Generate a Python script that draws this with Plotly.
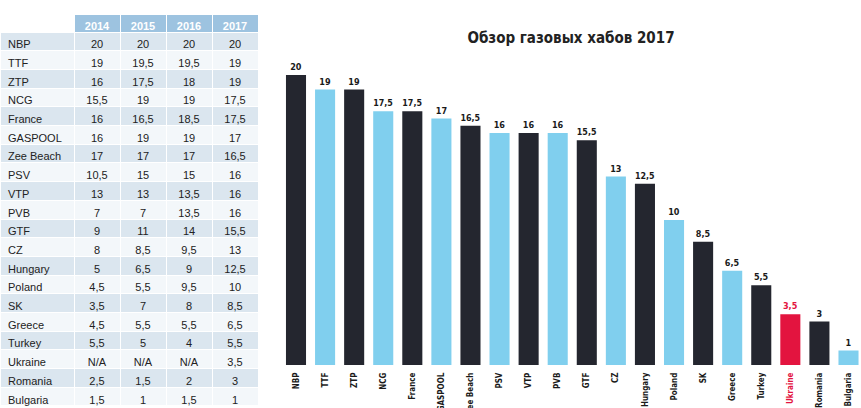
import plotly.graph_objects as go

hubs = ["NBP", "TTF", "ZTP", "NCG", "France", "GASPOOL", "Zee Beach", "PSV", "VTP", "PVB",
        "GTF", "CZ", "Hungary", "Poland", "SK", "Greece", "Turkey", "Ukraine", "Romania", "Bulgaria"]
y2014 = [20, 19, 16, 15.5, 16, 16, 17, 10.5, 13, 7, 9, 8, 5, 4.5, 3.5, 4.5, 5.5, None, 2.5, 1.5]
y2015 = [20, 19.5, 17.5, 19, 16.5, 19, 17, 15, 13, 7, 11, 8.5, 6.5, 5.5, 7, 5.5, 5, None, 1.5, 1]
y2016 = [20, 19.5, 18, 19, 18.5, 19, 17, 15, 13.5, 13.5, 14, 9.5, 9, 9.5, 8, 5.5, 4, None, 2, 1.5]
y2017 = [20, 19, 19, 17.5, 17.5, 17, 16.5, 16, 16, 16, 15.5, 13, 12.5, 10, 8.5, 6.5, 5.5, 3.5, 3, 1]
years = ["2014", "2015", "2016", "2017"]

DARK = "#24262f"
LIGHT = "#80cfee"
RED = "#e3143f"
COND = "DejaVu Sans Condensed, sans-serif"
TABLE_FONT = "Arial, Liberation Sans, sans-serif"


def fmt(v):
    if v is None:
        return "N/A"
    if float(v).is_integer():
        return str(int(v))
    return str(v).replace(".", ",")


bar_colors = []
for i, h in enumerate(hubs):
    if h == "Ukraine":
        bar_colors.append(RED)
    else:
        bar_colors.append(DARK if i % 2 == 0 else LIGHT)
text_colors = [RED if h == "Ukraine" else "#1a1a1a" for h in hubs]
tick_text = [f"<span style='color:{RED}'>{h}</span>" if h == "Ukraine" else h for h in hubs]
table_names = [h.replace(" ", "\u00a0") for h in hubs]

row_fill = ["#dbe6ef" if i % 2 == 0 else "#f3f7fa" for i in range(len(hubs))]

fig = go.Figure()

fig.add_trace(go.Table(
    domain=dict(x=[0, 258 / 861], y=[0, (408 - 14) / 408]),
    columnwidth=[74, 46, 46, 46, 46],
    header=dict(
        values=[""] + years,
        fill_color=["white", "#9dc3e0", "#9dc3e0", "#9dc3e0", "#9dc3e0"],
        line=dict(color="white", width=1),
        font=dict(family=TABLE_FONT, size=11, color="white", weight="bold"),
        align="center",
        height=18,
    ),
    cells=dict(
        values=[table_names, [fmt(v) for v in y2014], [fmt(v) for v in y2015],
                [fmt(v) for v in y2016], [fmt(v) for v in y2017]],
        fill_color=[row_fill] * 5,
        line=dict(color="white", width=1),
        font=dict(family=TABLE_FONT, size=11, color="#222222"),
        align=["left", "center", "center", "center", "center"],
        height=18.7,
    ),
))

fig.add_trace(go.Bar(
    x=hubs,
    y=y2017,
    marker=dict(color=bar_colors, line=dict(width=0)),
    width=0.69,
    text=[fmt(v) for v in y2017],
    textposition="outside",
    textfont=dict(family=COND, size=9, color=text_colors, weight="bold"),
    cliponaxis=False,
    showlegend=False,
))

px_per_slot = (848.5 - 296) / 19
left_px = 296 - px_per_slot / 2
rng_len = (861 - left_px) / px_per_slot

base_frac = (408 - 365) / 408
top_frac = (408 - 14) / 408
y_top = (365 - 14) / 14.5

fig.update_layout(
    width=861,
    height=408,
    margin=dict(l=0, r=0, t=0, b=0),
    paper_bgcolor="white",
    plot_bgcolor="white",
    title=dict(
        text="Обзор газовых хабов 2017",
        x=571 / 861,
        xanchor="center",
        y=1 - 38 / 408,
        yanchor="middle",
        font=dict(family=COND, size=15, color="#222222", weight="bold"),
    ),
    xaxis=dict(
        domain=[left_px / 861, 1],
        range=[-0.5, -0.5 + rng_len],
        tickmode="array",
        tickvals=hubs,
        ticktext=tick_text,
        tickangle=-90,
        tickfont=dict(family=COND, size=8, color="#1a1a1a", weight="bold"),
        ticklabelstandoff=5,
        showgrid=False,
        showline=False,
        zeroline=False,
        ticks="",
        ticklen=0,
        automargin=False,
    ),
    yaxis=dict(
        domain=[base_frac, top_frac],
        range=[0, y_top],
        visible=False,
        showgrid=False,
        automargin=False,
    ),
)

fig.write_html("out.html")
